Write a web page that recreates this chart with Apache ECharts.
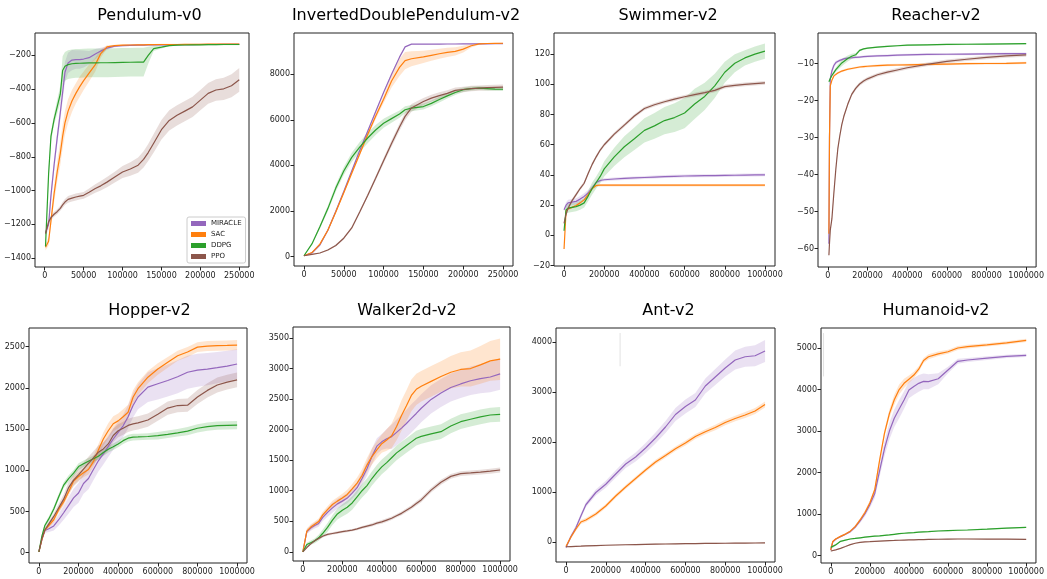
<!DOCTYPE html>
<html>
<head>
<meta charset="UTF-8">
<title>MuJoCo learning curves</title>
<style>
  body,html{margin:0;padding:0;background:#fff;overflow:hidden;}
  #chart{width:1047px;height:579px;}
</style>
</head>
<body>
<div id="chart"></div>
<script src="https://cdn.jsdelivr.net/npm/echarts@6.0.0/dist/echarts.min.js"></script>
<script>
// algorithms and their matplotlib colours
var ALGOS = ['MIRACLE', 'SAC', 'DDPG', 'PPO'];
var COLORS = ['#9467bd', '#ff7f0e', '#2ca02c', '#8c564b'];

// tick labels
var X_TICKS_250K = [0, 50000, 100000, 150000, 200000, 250000];
var X_TICKS_1M = [0, 200000, 400000, 600000, 800000, 1000000];
var Y_TICKS_PEND = [-1400, -1200, -1000, -800, -600, -400, -200];
var Y_TICKS_IDP = [0, 2000, 4000, 6000, 8000];
var Y_TICKS_SWIM = [-20, 0, 20, 40, 60, 80, 100, 120];
var Y_TICKS_REACH = [-60, -50, -40, -30, -20, -10];
var Y_TICKS_HOP = [0, 500, 1000, 1500, 2000, 2500];
var Y_TICKS_WALK = [0, 500, 1000, 1500, 2000, 2500, 3000, 3500];
var Y_TICKS_ANT = [0, 1000, 2000, 3000, 4000];
var Y_TICKS_HUM = [0, 1000, 2000, 3000, 4000, 5000];

// ---- Pendulum-v0 ----
var PEND_X = [1000, 5000, 8000, 12000, 16000, 20000, 23000, 26000, 30000, 35000, 40000, 45000, 50000, 57000, 65000, 72000, 80000, 90000, 100000, 110000, 120000, 127000, 133000, 140000, 150000, 160000, 170000, 180000, 190000, 200000, 210000, 220000, 230000, 240000, 250000];
var PEND_MIRACLE = [-1250, -1200, -1030, -850, -690, -540, -420, -300, -245, -228, -225, -225, -222, -214, -192, -175, -157, -146, -143, -141, -140, -140, -139, -139, -138, -138, -137, -137, -137, -136, -136, -136, -135, -135, -135];
var PEND_MIRACLE_SD = [15, 30, 40, 40, 40, 45, 50, 60, 60, 60, 55, 55, 50, 40, 30, 20, 10, 6, 4, 4, 4, 4, 4, 4, 4, 4, 4, 4, 4, 4, 4, 4, 4, 4, 4];
var PEND_SAC = [-1335, -1300, -1180, -1020, -890, -780, -680, -600, -530, -470, -425, -385, -350, -305, -255, -190, -150, -143, -140, -139, -138, -138, -137, -137, -136, -136, -136, -135, -135, -135, -134, -134, -134, -133, -133];
var PEND_SAC_SD = [20, 25, 30, 50, 60, 70, 70, 70, 70, 65, 60, 60, 55, 50, 40, 25, 10, 6, 4, 4, 4, 4, 4, 4, 4, 4, 4, 4, 4, 4, 4, 4, 4, 4, 4];
var PEND_DDPG = [-1330, -900, -680, -580, -505, -430, -290, -265, -255, -250, -248, -247, -246, -245, -245, -244, -244, -243, -242, -241, -240, -240, -200, -160, -152, -143, -140, -139, -138, -138, -137, -137, -136, -136, -136];
var PEND_DDPG_SD = [20, 40, 30, 30, 40, 50, 85, 85, 85, 85, 85, 85, 85, 85, 85, 85, 85, 85, 85, 85, 85, 85, 50, 15, 8, 4, 4, 4, 4, 4, 4, 4, 4, 4, 4];
var PEND_PPO = [-1255, -1185, -1160, -1140, -1125, -1105, -1085, -1068, -1052, -1045, -1038, -1033, -1028, -1010, -988, -972, -950, -920, -890, -872, -850, -815, -775, -720, -640, -585, -555, -530, -505, -465, -425, -405, -398, -380, -345];
var PEND_PPO_SD = [15, 15, 15, 15, 15, 15, 18, 18, 20, 20, 20, 20, 20, 22, 25, 28, 30, 32, 35, 40, 45, 48, 50, 55, 58, 60, 60, 60, 60, 60, 62, 64, 66, 68, 70];

// ---- InvertedDoublePendulum-v2 ----
var IDP_X = [0, 10000, 20000, 30000, 40000, 50000, 60000, 70000, 80000, 90000, 100000, 110000, 120000, 127000, 135000, 150000, 160000, 170000, 180000, 190000, 200000, 210000, 220000, 230000, 240000, 250000];
var IDP_MIRACLE = [30, 150, 500, 1150, 1980, 2850, 3750, 4650, 5500, 6350, 7200, 8000, 8750, 9200, 9320, 9320, 9322, 9324, 9326, 9328, 9330, 9332, 9334, 9336, 9338, 9340];
var IDP_MIRACLE_SD = [10, 20, 30, 40, 50, 50, 50, 50, 50, 50, 50, 40, 30, 20, 10, 10, 10, 10, 10, 10, 10, 10, 10, 10, 10, 10];
var IDP_SAC = [30, 170, 540, 1150, 1950, 2800, 3650, 4500, 5350, 6150, 6900, 7700, 8300, 8600, 8680, 8760, 8830, 8900, 8960, 9000, 9100, 9250, 9330, 9350, 9355, 9360];
var IDP_SAC_SD = [10, 20, 30, 40, 50, 60, 70, 80, 100, 130, 160, 280, 380, 380, 330, 270, 240, 220, 200, 180, 150, 80, 40, 25, 20, 20];
var IDP_DDPG = [30, 550, 1300, 2100, 3000, 3750, 4350, 4800, 5200, 5550, 5850, 6050, 6250, 6440, 6510, 6580, 6720, 6890, 7050, 7200, 7320, 7370, 7390, 7370, 7350, 7340];
var IDP_DDPG_SD = [10, 40, 80, 120, 150, 180, 200, 220, 230, 220, 200, 180, 160, 150, 140, 130, 130, 130, 120, 110, 100, 90, 80, 80, 80, 80];
var IDP_PPO = [30, 90, 150, 280, 480, 800, 1250, 1950, 2680, 3430, 4200, 4960, 5680, 6150, 6520, 6800, 6950, 7060, 7160, 7290, 7330, 7370, 7390, 7410, 7420, 7430];
var IDP_PPO_SD = [10, 15, 20, 30, 40, 50, 60, 70, 80, 100, 120, 140, 160, 170, 170, 160, 150, 150, 140, 130, 120, 120, 120, 120, 120, 120];

// ---- Swimmer-v2 ----
var SWIM_X = [0, 10000, 20000, 40000, 60000, 80000, 100000, 120000, 140000, 160000, 180000, 200000, 250000, 300000, 350000, 400000, 450000, 500000, 550000, 600000, 650000, 700000, 750000, 800000, 850000, 900000, 950000, 1000000];
var SWIM_MIRACLE = [17, 20, 21.5, 22, 22.5, 24, 25.8, 28, 31.5, 35, 36.3, 36.8, 37.3, 37.7, 38, 38.3, 38.6, 38.9, 39.1, 39.3, 39.4, 39.5, 39.6, 39.7, 39.8, 39.9, 40, 40.1];
var SWIM_MIRACLE_SD = [1, 2, 2, 2, 2, 2, 2, 2, 1.5, 1.2, 1, 1, 1, 1, 1, 1, 1, 1, 1, 1, 1, 1, 1, 1, 1, 1, 1, 1];
var SWIM_SAC = [-9, 16, 17.5, 18.5, 19.8, 21.5, 23.5, 27, 31, 33, 33.2, 33.2, 33.2, 33.2, 33.2, 33.2, 33.2, 33.2, 33.2, 33.2, 33.2, 33.2, 33.2, 33.2, 33.2, 33.2, 33.2, 33.2];
var SWIM_SAC_SD = [0.8, 0.8, 0.8, 0.8, 0.8, 0.8, 0.8, 0.8, 0.8, 0.8, 0.8, 0.8, 0.8, 0.8, 0.8, 0.8, 0.8, 0.8, 0.8, 0.8, 0.8, 0.8, 0.8, 0.8, 0.8, 0.8, 0.8, 0.8];
var SWIM_DDPG = [3, 17, 18, 18.5, 19, 20, 21.5, 26, 31, 35, 39, 44, 52, 58.7, 64, 69.5, 72.5, 76, 78, 81, 87, 92, 99, 108, 114, 117.5, 120, 122];
var SWIM_DDPG_SD = [1, 3, 3, 3, 3, 3, 3, 3.5, 4, 4, 4.5, 5, 6, 7, 7.5, 8, 8.5, 9, 9.5, 10, 10, 9, 8, 7, 6, 5, 5, 5];
var SWIM_PPO = [8, 14, 18, 23, 27, 31, 34.5, 41, 47, 52, 56.5, 60, 67, 73, 79, 84, 86.5, 88.5, 90.2, 91.8, 93.2, 94.5, 96, 98.5, 99.3, 100, 100.5, 101];
var SWIM_PPO_SD = [1.2, 1.2, 1.2, 1.2, 1.2, 1.2, 1.2, 1.2, 1.2, 1.2, 1.2, 1.2, 1.2, 1.2, 1.2, 1.2, 1.2, 1.2, 1.2, 1.2, 1.2, 1.2, 1.2, 1.2, 1.2, 1.2, 1.2, 1.2];

// ---- Reacher-v2 ----
var REACH_X = [5000, 8000, 12000, 20000, 30000, 40000, 50000, 60000, 70000, 80000, 100000, 120000, 140000, 160000, 180000, 200000, 250000, 300000, 350000, 400000, 500000, 600000, 700000, 800000, 900000, 1000000];
var REACH_MIRACLE = [-58.7, -30, -14, -12, -10.5, -9.7, -9.4, -9.1, -8.9, -8.7, -8.5, -8.4, -8.3, -8.2, -8.1, -8.0, -7.9, -7.8, -7.7, -7.6, -7.5, -7.45, -7.4, -7.35, -7.3, -7.3];
var REACH_MIRACLE_SD = [0.5, 1, 1, 0.8, 0.6, 0.5, 0.4, 0.4, 0.4, 0.3, 0.3, 0.3, 0.3, 0.3, 0.3, 0.3, 0.3, 0.3, 0.3, 0.3, 0.3, 0.3, 0.3, 0.3, 0.3, 0.3];
var REACH_SAC = [-56, -30, -16, -14.5, -13.3, -12.8, -12.5, -12.3, -12.0, -11.8, -11.5, -11.3, -11.1, -10.9, -10.8, -10.7, -10.5, -10.4, -10.35, -10.3, -10.2, -10.1, -10.0, -9.95, -9.9, -9.8];
var REACH_SAC_SD = [0.3, 0.3, 0.3, 0.3, 0.3, 0.3, 0.3, 0.3, 0.3, 0.3, 0.3, 0.3, 0.3, 0.3, 0.3, 0.3, 0.3, 0.3, 0.3, 0.3, 0.3, 0.3, 0.3, 0.3, 0.3, 0.3];
var REACH_DDPG = [-14.9, -14.6, -14, -13.2, -12.4, -11.6, -11.0, -10.4, -9.8, -9.3, -8.6, -8.0, -7.6, -6.4, -6.0, -5.8, -5.5, -5.3, -5.15, -5.0, -4.9, -4.8, -4.75, -4.7, -4.65, -4.6];
var REACH_DDPG_SD = [0.2, 0.2, 0.3, 0.4, 0.5, 0.6, 0.7, 0.8, 0.9, 0.9, 0.8, 0.7, 0.5, 0.3, 0.2, 0.2, 0.2, 0.2, 0.2, 0.2, 0.2, 0.2, 0.2, 0.2, 0.2, 0.2];
var REACH_PPO = [-61.8, -58.5, -55, -52, -45, -38.5, -33, -29.5, -26.5, -24.3, -21, -18.3, -16.7, -15.5, -14.7, -14.1, -13, -12.3, -11.7, -11.1, -10.2, -9.4, -8.8, -8.3, -7.9, -7.6];
var REACH_PPO_SD = [0.5, 0.5, 0.5, 0.5, 0.5, 0.5, 0.5, 0.5, 0.5, 0.5, 0.5, 0.5, 0.5, 0.5, 0.5, 0.5, 0.5, 0.5, 0.5, 0.5, 0.5, 0.5, 0.5, 0.5, 0.5, 0.5];

// ---- Hopper-v2 ----
var HOP_X = [0, 15000, 30000, 50000, 75000, 100000, 125000, 150000, 175000, 200000, 225000, 250000, 275000, 300000, 325000, 350000, 375000, 400000, 425000, 450000, 475000, 500000, 550000, 600000, 650000, 700000, 750000, 800000, 850000, 900000, 950000, 1000000];
var HOP_MIRACLE = [10, 160, 270, 290, 325, 400, 485, 575, 665, 725, 840, 900, 1010, 1115, 1200, 1290, 1380, 1460, 1540, 1650, 1786, 1890, 2010, 2050, 2090, 2135, 2190, 2215, 2228, 2245, 2265, 2290];
var HOP_MIRACLE_SD = [10, 30, 30, 40, 55, 70, 85, 100, 110, 120, 125, 130, 130, 130, 130, 130, 130, 130, 135, 140, 145, 150, 180, 190, 195, 200, 200, 200, 195, 190, 185, 180];
var HOP_SAC = [10, 160, 275, 330, 400, 525, 620, 740, 870, 925, 970, 1010, 1105, 1245, 1380, 1480, 1565, 1600, 1650, 1705, 1887, 1990, 2130, 2230, 2310, 2390, 2435, 2495, 2508, 2512, 2515, 2520];
var HOP_SAC_SD = [10, 20, 25, 30, 35, 40, 45, 50, 50, 50, 55, 60, 65, 70, 80, 90, 90, 90, 90, 90, 85, 80, 75, 70, 65, 60, 60, 60, 60, 60, 60, 60];
var HOP_DDPG = [10, 200, 330, 410, 530, 680, 820, 900, 965, 1045, 1080, 1110, 1140, 1170, 1215, 1255, 1285, 1320, 1360, 1390, 1403, 1405, 1410, 1420, 1437, 1455, 1475, 1510, 1530, 1542, 1546, 1548];
var HOP_DDPG_SD = [5, 20, 25, 30, 30, 35, 35, 40, 40, 40, 40, 40, 40, 40, 40, 40, 40, 40, 40, 40, 40, 40, 40, 45, 45, 45, 50, 50, 50, 50, 50, 50];
var HOP_PPO = [10, 170, 275, 350, 440, 545, 650, 790, 880, 945, 1015, 1085, 1150, 1220, 1260, 1320, 1423, 1480, 1510, 1545, 1564, 1575, 1610, 1680, 1755, 1786, 1790, 1890, 1970, 2035, 2070, 2097];
var HOP_PPO_SD = [5, 20, 25, 30, 40, 50, 60, 70, 75, 80, 80, 80, 80, 80, 80, 80, 80, 80, 80, 80, 80, 80, 80, 80, 80, 80, 80, 85, 85, 90, 90, 90];

// ---- Walker2d-v2 ----
var WALK_X = [0, 20000, 40000, 60000, 80000, 100000, 125000, 150000, 175000, 200000, 225000, 250000, 275000, 300000, 325000, 350000, 375000, 400000, 425000, 450000, 475000, 500000, 525000, 550000, 575000, 600000, 650000, 700000, 750000, 800000, 850000, 900000, 950000, 1000000];
var WALK_MIRACLE = [0, 330, 390, 430, 465, 560, 645, 720, 785, 830, 880, 960, 1050, 1200, 1360, 1560, 1730, 1800, 1850, 1885, 1955, 2025, 2100, 2185, 2265, 2350, 2495, 2600, 2690, 2748, 2800, 2835, 2862, 2912];
var WALK_MIRACLE_SD = [5, 40, 45, 50, 55, 60, 70, 80, 80, 80, 85, 90, 95, 100, 115, 130, 130, 130, 160, 200, 210, 220, 225, 230, 230, 230, 230, 230, 230, 230, 235, 240, 250, 260];
var WALK_SAC = [0, 340, 405, 450, 495, 600, 690, 775, 830, 880, 940, 1030, 1125, 1250, 1420, 1560, 1670, 1770, 1830, 1900, 2050, 2230, 2390, 2560, 2660, 2710, 2790, 2870, 2940, 2985, 3000, 3060, 3125, 3153];
var WALK_SAC_SD = [5, 40, 45, 45, 50, 50, 55, 60, 65, 70, 75, 80, 90, 100, 115, 130, 140, 150, 175, 200, 225, 250, 255, 260, 255, 250, 250, 250, 265, 280, 295, 310, 325, 340];
var WALK_DDPG = [0, 120, 150, 180, 230, 300, 400, 520, 620, 680, 730, 800, 900, 1000, 1085, 1200, 1300, 1390, 1460, 1540, 1620, 1680, 1740, 1800, 1860, 1890, 1930, 1967, 2060, 2130, 2170, 2210, 2240, 2251];
var WALK_DDPG_SD = [5, 30, 35, 40, 50, 60, 70, 80, 90, 100, 105, 110, 110, 110, 115, 115, 120, 120, 120, 120, 120, 120, 120, 120, 120, 120, 120, 120, 120, 120, 120, 120, 120, 120];
var WALK_PPO = [0, 70, 130, 180, 220, 255, 285, 300, 315, 330, 342, 355, 375, 400, 420, 440, 470, 490, 520, 550, 590, 630, 680, 730, 790, 850, 1010, 1140, 1235, 1280, 1292, 1305, 1320, 1339];
var WALK_PPO_SD = [5, 15, 20, 20, 20, 20, 20, 20, 20, 20, 20, 20, 20, 22, 24, 26, 28, 30, 30, 30, 30, 30, 32, 34, 36, 38, 40, 40, 40, 40, 40, 40, 40, 40];

// ---- Ant-v2 (no DDPG curve) ----
var ANT_X = [0, 25000, 50000, 75000, 100000, 150000, 200000, 250000, 300000, 350000, 400000, 450000, 500000, 550000, 600000, 650000, 700000, 750000, 800000, 850000, 900000, 950000, 1000000];
var ANT_MIRACLE = [-110, 110, 285, 520, 745, 990, 1155, 1360, 1560, 1700, 1880, 2080, 2300, 2550, 2710, 2840, 3120, 3300, 3480, 3640, 3705, 3725, 3821];
var ANT_MIRACLE_SD = [30, 40, 45, 50, 50, 60, 70, 75, 80, 90, 100, 110, 120, 130, 140, 140, 150, 160, 170, 190, 200, 210, 220];
var ANT_SAC = [-90, 100, 260, 400, 440, 560, 720, 920, 1100, 1270, 1440, 1600, 1730, 1865, 1980, 2110, 2205, 2290, 2390, 2470, 2540, 2620, 2751];
var ANT_SAC_SD = [30, 35, 40, 40, 40, 40, 40, 40, 40, 40, 40, 45, 45, 45, 50, 50, 50, 55, 55, 55, 60, 60, 60];
var ANT_PPO = [-95, -91, -87, -83, -78, -72, -65, -60, -55, -51, -47, -43, -40, -37, -34, -32, -29, -27, -25, -23, -22, -20, -18];
var ANT_PPO_SD = [12, 12, 12, 12, 12, 12, 12, 12, 12, 12, 12, 12, 12, 12, 12, 12, 12, 12, 12, 12, 12, 12, 12];
var ANT_GHOST_X = [272000, 272000];
var ANT_GHOST_Y = [3515, 4180];

// ---- Humanoid-v2 ----
var HUM_X = [0, 10000, 25000, 50000, 75000, 100000, 125000, 150000, 175000, 200000, 225000, 250000, 275000, 300000, 325000, 350000, 375000, 400000, 425000, 450000, 475000, 500000, 550000, 600000, 650000, 700000, 800000, 900000, 1000000];
var HUM_MIRACLE = [137, 330, 395, 460, 515, 580, 690, 840, 1010, 1230, 1500, 2050, 2580, 3000, 3310, 3530, 3750, 3990, 4076, 4150, 4196, 4190, 4260, 4470, 4680, 4712, 4755, 4797, 4824];
var HUM_MIRACLE_SD = [10, 20, 20, 20, 25, 30, 40, 50, 65, 80, 110, 150, 180, 200, 210, 220, 210, 200, 200, 200, 190, 180, 130, 80, 60, 50, 45, 40, 40];
var HUM_SAC = [137, 340, 400, 465, 520, 590, 700, 860, 1040, 1270, 1590, 2300, 2950, 3420, 3754, 4000, 4150, 4250, 4350, 4490, 4700, 4790, 4860, 4910, 5000, 5035, 5075, 5125, 5185];
var HUM_SAC_SD = [10, 20, 20, 20, 20, 25, 30, 35, 40, 50, 60, 70, 80, 100, 120, 120, 110, 90, 80, 70, 60, 60, 55, 50, 50, 45, 40, 40, 40];
var HUM_DDPG = [200, 200, 260, 345, 375, 402, 415, 430, 445, 458, 470, 478, 490, 500, 515, 530, 540, 548, 556, 565, 573, 580, 595, 605, 612, 619, 640, 665, 683];
var HUM_DDPG_SD = [15, 15, 15, 15, 15, 15, 15, 15, 15, 15, 15, 15, 15, 15, 15, 15, 15, 15, 15, 15, 15, 15, 15, 15, 15, 15, 15, 15, 15];
var HUM_PPO = [113, 118, 140, 177, 220, 265, 300, 320, 332, 338, 345, 352, 358, 363, 367, 372, 376, 380, 383, 386, 389, 391, 396, 400, 402, 402, 400, 397, 394];
var HUM_PPO_SD = [10, 10, 10, 10, 10, 10, 10, 10, 10, 10, 10, 10, 10, 10, 10, 10, 10, 10, 10, 10, 10, 10, 10, 10, 10, 10, 10, 10, 10];
var HUM_GHOST_X = [-37000, -37000];
var HUM_GHOST_Y = [4316, 5361];

// panel setup: plot box [left, top, right, bottom] in px, title centre, axis ranges
var PANELS = [
    {title: 'Pendulum-v0', box: [35, 33, 249, 267], tpos: [149.5, 16], x: PEND_X,
     lines: [[PEND_MIRACLE, PEND_MIRACLE_SD], [PEND_SAC, PEND_SAC_SD], [PEND_DDPG, PEND_DDPG_SD], [PEND_PPO, PEND_PPO_SD]],
     xr: [-12500, 262500], xt: X_TICKS_250K, yr: [-1452, -68], yt: Y_TICKS_PEND},
    {title: 'InvertedDoublePendulum-v2', box: [294, 33, 513, 266], tpos: [406, 16], x: IDP_X,
     lines: [[IDP_MIRACLE, IDP_MIRACLE_SD], [IDP_SAC, IDP_SAC_SD], [IDP_DDPG, IDP_DDPG_SD], [IDP_PPO, IDP_PPO_SD]],
     xr: [-12500, 262500], xt: X_TICKS_250K, yr: [-420, 9810], yt: Y_TICKS_IDP},
    {title: 'Swimmer-v2', box: [554, 33, 775, 266], tpos: [668, 16], x: SWIM_X,
     lines: [[SWIM_MIRACLE, SWIM_MIRACLE_SD], [SWIM_SAC, SWIM_SAC_SD], [SWIM_DDPG, SWIM_DDPG_SD], [SWIM_PPO, SWIM_PPO_SD]],
     xr: [-50000, 1050000], xt: X_TICKS_1M, yr: [-20.3, 134], yt: Y_TICKS_SWIM},
    {title: 'Reacher-v2', box: [818, 33, 1039, 267], tpos: [936, 16], x: REACH_X,
     lines: [[REACH_MIRACLE, REACH_MIRACLE_SD], [REACH_SAC, REACH_SAC_SD], [REACH_DDPG, REACH_DDPG_SD], [REACH_PPO, REACH_PPO_SD]],
     xr: [-50000, 1050000], xt: X_TICKS_1M, yr: [-65, -1.7], yt: Y_TICKS_REACH},
    {title: 'Hopper-v2', box: [29, 328, 247, 563], tpos: [149.5, 311], x: HOP_X,
     lines: [[HOP_MIRACLE, HOP_MIRACLE_SD], [HOP_SAC, HOP_SAC_SD], [HOP_DDPG, HOP_DDPG_SD], [HOP_PPO, HOP_PPO_SD]],
     xr: [-50000, 1050000], xt: X_TICKS_1M, yr: [-125, 2727], yt: Y_TICKS_HOP},
    {title: 'Walker2d-v2', box: [293, 327, 510, 561], tpos: [407, 311], x: WALK_X,
     lines: [[WALK_MIRACLE, WALK_MIRACLE_SD], [WALK_SAC, WALK_SAC_SD], [WALK_DDPG, WALK_DDPG_SD], [WALK_PPO, WALK_PPO_SD]],
     xr: [-50000, 1050000], xt: X_TICKS_1M, yr: [-150, 3680], yt: Y_TICKS_WALK},
    {title: 'Ant-v2', box: [556, 328, 775, 562], tpos: [668.5, 311], x: ANT_X,
     lines: [[ANT_MIRACLE, ANT_MIRACLE_SD], [ANT_SAC, ANT_SAC_SD], null, [ANT_PPO, ANT_PPO_SD]],
     ghost: [ANT_GHOST_X, ANT_GHOST_Y],
     xr: [-50000, 1050000], xt: X_TICKS_1M, yr: [-400, 4280], yt: Y_TICKS_ANT},
    {title: 'Humanoid-v2', box: [821, 328, 1037, 563], tpos: [936, 311], x: HUM_X,
     lines: [[HUM_MIRACLE, HUM_MIRACLE_SD], [HUM_SAC, HUM_SAC_SD], [HUM_DDPG, HUM_DDPG_SD], [HUM_PPO, HUM_PPO_SD]],
     ghost: [HUM_GHOST_X, HUM_GHOST_Y],
     xr: [-50000, 1050000], xt: X_TICKS_1M, yr: [-176, 5482], yt: Y_TICKS_HUM}
];

var FONT = '"DejaVu Sans", "Liberation Sans", sans-serif';

function plainNum(v) { return String(v).replace('-', '\u2212'); }

// shaded mean +/- sd band, drawn as one polygon through the axis scales
function bandSeries(gi, xs, mean, sd, color, name) {
    var rows = xs.map(function (x, k) { return [x, mean[k] - sd[k], mean[k] + sd[k]]; });
    return {
        type: 'custom', name: name + ' band', xAxisIndex: gi, yAxisIndex: gi,
        data: rows, encode: {x: 0, y: [1, 2]}, silent: true, z: 1, clip: true,
        renderItem: function (params, api) {
            if (params.dataIndex !== 0) return;
            var top = rows.map(function (r) { return api.coord([r[0], r[2]]); });
            var bot = rows.map(function (r) { return api.coord([r[0], r[1]]); }).reverse();
            return {type: 'polygon', shape: {points: top.concat(bot)},
                    style: {fill: color, opacity: 0.2}};
        }
    };
}

var grids = [], xAxes = [], yAxes = [], series = [], titles = [];

PANELS.forEach(function (p, gi) {
    var b = p.box;
    grids.push({left: b[0], top: b[1], width: b[2] - b[0], height: b[3] - b[1],
                show: true, borderColor: '#222', borderWidth: 1, backgroundColor: '#fff'});
    xAxes.push({
        type: 'value', gridIndex: gi, min: p.xr[0], max: p.xr[1], position: 'bottom',
        axisLine: {show: false, onZero: false},
        axisTick: {show: true, inside: false, length: 3.5, customValues: p.xt, lineStyle: {color: '#222'}},
        axisLabel: {customValues: p.xt, fontSize: 8, color: '#222', margin: 5, fontFamily: FONT,
                    formatter: plainNum},
        splitLine: {show: false}
    });
    yAxes.push({
        type: 'value', gridIndex: gi, min: p.yr[0], max: p.yr[1], position: 'left',
        axisLine: {show: false, onZero: false},
        axisTick: {show: true, inside: false, length: 3.5, customValues: p.yt, lineStyle: {color: '#222'}},
        axisLabel: {customValues: p.yt, fontSize: 8, color: '#222', margin: 4, fontFamily: FONT,
                    formatter: plainNum},
        splitLine: {show: false}
    });
    p.lines.forEach(function (ln, ai) {
        if (!ln) return;
        series.push(bandSeries(gi, p.x, ln[0], ln[1], COLORS[ai], ALGOS[ai]));
    });
    p.lines.forEach(function (ln, ai) {
        if (!ln) return;
        series.push({
            type: 'line', name: ALGOS[ai], xAxisIndex: gi, yAxisIndex: gi,
            data: p.x.map(function (x, k) { return [x, ln[0][k]]; }),
            showSymbol: false, symbol: 'none', silent: true, z: 3,
            lineStyle: {width: 1.2, color: COLORS[ai]}, itemStyle: {color: COLORS[ai]}
        });
    });
    if (p.ghost) {
        series.push({
            type: 'line', name: 'ghost', xAxisIndex: gi, yAxisIndex: gi,
            data: p.ghost[0].map(function (x, k) { return [x, p.ghost[1][k]]; }),
            showSymbol: false, symbol: 'none', silent: true, z: 2,
            lineStyle: {width: 1, color: '#e2e2e2'}
        });
    }
    titles.push({
        type: 'text', x: p.tpos[0], y: p.tpos[1], silent: true,
        style: {text: p.title, font: '16px ' + FONT, fill: '#000',
                textAlign: 'center', textVerticalAlign: 'middle'}
    });
});

var chart = echarts.init(document.getElementById('chart'));
chart.setOption({
    animation: false,
    backgroundColor: '#fff',
    grid: grids,
    xAxis: xAxes,
    yAxis: yAxes,
    legend: {
        data: ALGOS, orient: 'vertical', left: 187, top: 217,
        icon: 'rect', itemWidth: 15, itemHeight: 5, itemGap: 4,
        padding: [3, 4, 3, 4], borderColor: '#ccc', borderWidth: 1, borderRadius: 2,
        backgroundColor: '#fff', selectedMode: false,
        textStyle: {fontSize: 7, color: '#222', fontFamily: FONT}
    },
    graphic: titles,
    series: series
});
window.addEventListener('resize', function () { chart.resize(); });
</script>
</body>
</html>
